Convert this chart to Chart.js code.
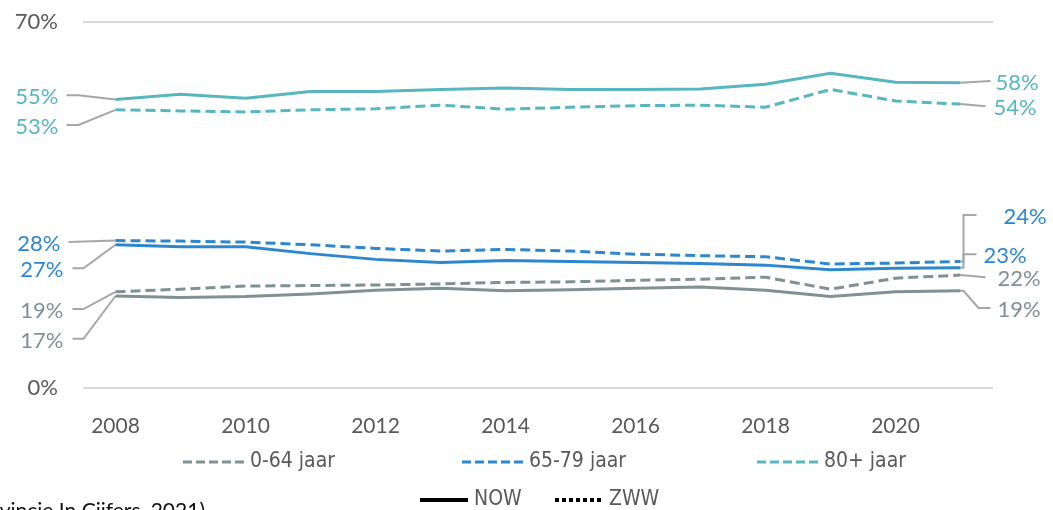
<!DOCTYPE html>
<html>
<head>
<meta charset="utf-8">
<script src="https://cdn.jsdelivr.net/npm/chart.js@4.4.1/dist/chart.umd.min.js"></script>
<style>
  html, body { margin: 0; padding: 0; background: #fff; }
  #wrap { position: relative; width: 1053px; height: 510px; }
</style>
</head>
<body>
<div id="wrap"><canvas id="chart" width="1053" height="510"></canvas></div>
<script>
// Years on the category axis
const years = ['2008', '2009', '2010', '2011', '2012', '2013', '2014',
  '2015', '2016', '2017', '2018', '2019', '2020', '2021'];

// Percentages per age group, NOW (solid) and ZWW (dashed)
const now064 = [17.6, 17.3, 17.5, 18.0, 18.7, 19.1, 18.6, 18.8, 19.1, 19.3, 18.7, 17.5, 18.4, 18.6];
const zww064 = [18.4, 18.9, 19.5, 19.6, 19.7, 19.9, 20.2, 20.3, 20.6, 20.8, 21.2, 18.9, 21.0, 21.6];
const now6579 = [27.4, 27.0, 27.0, 25.7, 24.6, 24.0, 24.4, 24.2, 24.0, 23.8, 23.5, 22.6, 22.9, 23.0];
const zww6579 = [28.2, 28.1, 27.9, 27.4, 26.7, 26.2, 26.5, 26.2, 25.6, 25.3, 25.1, 23.7, 23.9, 24.2];
const now80 = [55.2, 56.2, 55.4, 56.7, 56.7, 57.1, 57.4, 57.1, 57.1, 57.2, 58.1, 60.2, 58.5, 58.4];
const zww80 = [53.2, 53.0, 52.8, 53.2, 53.4, 54.1, 53.3, 53.7, 54.0, 54.1, 53.7, 57.1, 54.9, 54.3];

const yTicks = [0, 70];
const groupNames = ['0-64 jaar', '65-79 jaar', '80+ jaar'];
const typeNames = ['NOW', 'ZWW'];

const GRAY = '#7f9193';
const BLUE = '#2d87cf';
const TEAL = '#57b7c1';
const LEADER = '#a6a6a6';
const TEXT = '#595959';
const FONT = 'Lato, "Open Sans", sans-serif';
const NARROW = '"Liberation Sans Narrow", "DejaVu Sans Condensed", Lato, sans-serif';

// dataset order: 0 zww064, 1 now064, 2 zww6579, 3 now6579, 4 zww80, 5 now80
const callouts = [
  // start of the lines
  { text: '55%', ds: 5, side: 'start', at: 56.0, color: TEAL, dx: -57, path: [[-49, 'l'], [-37, 'l'], [0, 'p']] },
  { text: '53%', ds: 4, side: 'start', at: 50.3, color: TEAL, dx: -57, path: [[-49, 'l'], [-37, 'l'], [0, 'p']] },
  { text: '28%', ds: 2, side: 'start', at: 27.9, color: BLUE, dx: -55, path: [[-47, 'l'], [0, 'p']] },
  { text: '27%', ds: 3, side: 'start', at: 22.9, color: BLUE, dx: -52, path: [[-43, 'l'], [-32, 'l'], [0, 'p']] },
  { text: '19%', ds: 0, side: 'start', at: 15.1, color: GRAY, dx: -52, path: [[-43, 'l'], [-32, 'l'], [0, 'p']] },
  { text: '17%', ds: 1, side: 'start', at: 9.4, color: GRAY, dx: -52, path: [[-43, 'l'], [-32, 'l'], [0, 'p']] },
  // end of the lines
  { text: '58%', ds: 5, side: 'end', at: 58.7, color: TEAL, dx: 35, path: [[0, 'p'], [30, 'l']] },
  { text: '54%', ds: 4, side: 'end', at: 53.9, color: TEAL, dx: 33, path: [[0, 'p'], [25, 'l']] },
  { text: '24%', ds: 2, side: 'end', at: 33.1, color: BLUE, dx: 43, path: [[0, 'p'], [3, 'p'], [3, 'l'], [16, 'l']] },
  { text: '23%', ds: 3, side: 'end', at: 25.6, color: BLUE, dx: 23, path: [[0, 'p'], [3, 'p'], [3, 'l'], [16, 'l']] },
  { text: '22%', ds: 0, side: 'end', at: 21.2, color: GRAY, dx: 37, path: [[0, 'p'], [25, 'l']] },
  { text: '19%', ds: 1, side: 'end', at: 15.3, color: GRAY, dx: 37, path: [[0, 'p'], [3, 'p'], [18, 'l'], [30, 'l']] }
];

function line(data, color, dashed) {
  return {
    data: data,
    borderColor: color,
    borderWidth: 3,
    borderDash: dashed ? [10, 5] : [],
    pointRadius: 0,
    tension: 0,
    fill: false
  };
}

// leader lines from the first/last point to the value labels, plus legend
const leaderPlugin = {
  id: 'leaders',
  beforeDatasetsDraw(chart) {
    const ctx = chart.ctx;
    const y = chart.scales.y;
    ctx.save();
    ctx.strokeStyle = LEADER;
    ctx.lineWidth = 2;
    callouts.forEach(c => {
      const meta = chart.getDatasetMeta(c.ds);
      const pt = c.side === 'start' ? meta.data[0] : meta.data[meta.data.length - 1];
      const ly = y.getPixelForValue(c.at);
      ctx.beginPath();
      c.path.forEach((p, i) => {
        const px = pt.x + p[0];
        const py = p[1] === 'p' ? pt.y : ly;
        if (i === 0) ctx.moveTo(px, py); else ctx.lineTo(px, py);
      });
      ctx.stroke();
    });
    ctx.restore();
  },
  afterDraw(chart) {
    const ctx = chart.ctx;
    const y = chart.scales.y;
    const area = chart.chartArea;
    ctx.save();
    ctx.font = '22px ' + FONT;
    ctx.textBaseline = 'middle';
    callouts.forEach(c => {
      const meta = chart.getDatasetMeta(c.ds);
      const pt = c.side === 'start' ? meta.data[0] : meta.data[meta.data.length - 1];
      ctx.fillStyle = c.color;
      ctx.textAlign = c.side === 'start' ? 'right' : 'left';
      ctx.fillText(c.text, pt.x + c.dx, y.getPixelForValue(c.at) + 2);
    });

    // legend, row 1: age groups
    const colors = [GRAY, BLUE, TEAL];
    const mid = (area.left + area.right) / 2 + 16;
    const groupStarts = [mid - 371, mid - 92, mid + 203];
    ctx.font = '21px ' + NARROW;
    ctx.textAlign = 'left';
    groupNames.forEach((name, i) => {
      const x0 = groupStarts[i];
      const ly = 462;
      ctx.strokeStyle = colors[i];
      ctx.lineWidth = 3;
      ctx.setLineDash([9, 4]);
      ctx.beginPath();
      ctx.moveTo(x0, ly);
      ctx.lineTo(x0 + 62, ly);
      ctx.stroke();
      ctx.setLineDash([]);
      ctx.fillStyle = TEXT;
      ctx.fillText(name, x0 + 67, ly);
    });

    // legend, row 2: NOW / ZWW
    const dashes = [[], [4, 3]];
    const starts = [mid - 134, mid + 1];
    typeNames.forEach((name, i) => {
      const x0 = starts[i];
      const ly = 500;
      ctx.strokeStyle = '#000';
      ctx.lineWidth = 4;
      ctx.setLineDash(dashes[i]);
      ctx.beginPath();
      ctx.moveTo(x0, ly);
      ctx.lineTo(x0 + 48, ly);
      ctx.stroke();
      ctx.setLineDash([]);
      ctx.fillStyle = TEXT;
      ctx.fillText(name, x0 + 54, ly);
    });

    // source note, cut off by the bottom edge
    ctx.font = '21px ' + FONT;
    ctx.fillStyle = '#111';
    ctx.textAlign = 'right';
    ctx.textBaseline = 'alphabetic';
    ctx.fillText('(Bron: Provincie In Cijfers, 2021)', 205, 518);
    ctx.restore();
  }
};

new Chart(document.getElementById('chart'), {
  type: 'line',
  data: {
    labels: years,
    datasets: [
      line(zww064, GRAY, true),
      line(now064, GRAY, false),
      line(zww6579, BLUE, true),
      line(now6579, BLUE, false),
      line(zww80, TEAL, true),
      line(now80, TEAL, false)
    ]
  },
  options: {
    responsive: false,
    animation: false,
    layout: { padding: { top: 22, right: 60, left: 0, bottom: 0 } },
    plugins: {
      legend: { display: false },
      tooltip: { enabled: false }
    },
    scales: {
      x: {
        offset: true,
        grid: { display: false },
        border: { display: false },
        ticks: {
          autoSkip: false,
          maxRotation: 0,
          padding: 18,
          color: TEXT,
          font: { family: FONT, size: 21 },
          callback: (v, i) => (i % 2 === 0 ? years[i] : '')
        },
        afterFit: s => { s.height = 122; s.paddingLeft = 0; s.paddingRight = 0; }
      },
      y: {
        min: 0,
        max: 70,
        grid: { color: '#d9d9d9', lineWidth: 2, drawTicks: false },
        border: { display: false },
        ticks: {
          padding: 25,
          color: TEXT,
          font: { family: FONT, size: 22 },
          callback: v => v + '%'
        },
        afterBuildTicks: s => { s.ticks = yTicks.map(v => ({ value: v })); },
        afterFit: s => { s.width = 83; s.paddingTop = 0; s.paddingBottom = 0; }
      }
    }
  },
  plugins: [leaderPlugin]
});
</script>
</body>
</html>
